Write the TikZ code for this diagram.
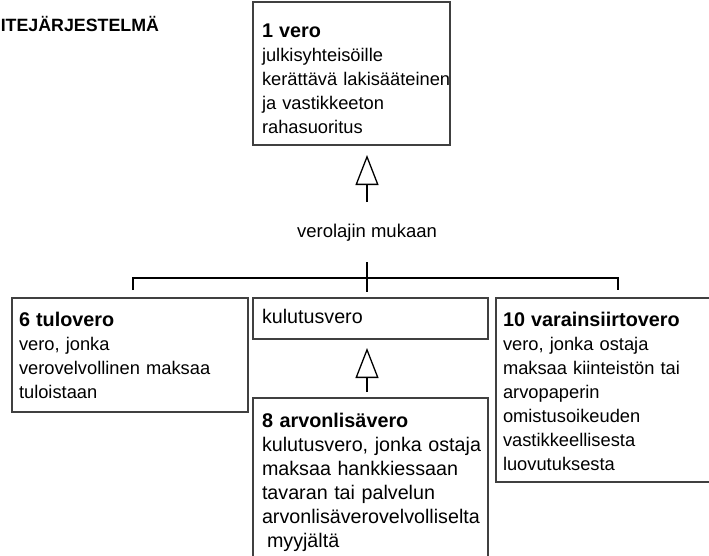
\documentclass[tikz,border=0pt]{standalone}
\usepackage{fontspec}
\setmainfont{Liberation Sans}
\usetikzlibrary{positioning}
\usetikzlibrary{arrows.meta}
\newcommand{\lead}[1]{{\fontsize{19.8}{24}\selectfont\bfseries #1}}
\newcommand{\sidefont}{\fontsize{18.3}{24}\selectfont}
\newcommand{\midfont}{\fontsize{19.7}{24}\selectfont}
\tikzstyle{concept}=[draw=black!75, line width=1.4pt, rectangle, anchor=north west, inner ysep=0pt, outer sep=0pt, align=left, text height=28pt, font=\sidefont]
\tikzstyle{isa}=[-{Triangle[open, length=30pt, width=23pt]}]

\begin{document}
\begin{tikzpicture}[x=1pt, y=-1pt, line width=1.3pt]
				\useasboundingbox (0,0) rectangle (709,555);
				\clip (0,0) rectangle (709,555);
				
				\coordinate (axis) at (367,0);
				\coordinate (stem) at (367,202);
				\coordinate (fork) at (367,278);
				\coordinate (leftdrop) at (133,290);
				\coordinate (rightdrop) at (618,290);
				
				\node (heading) [anchor=base east, font=\fontsize{17.8}{20}\selectfont\bfseries] at (163,31) {SITEJÄRJESTELMÄ};
				
				\node (vero) [concept, text width=179pt, inner xsep=9pt, text height=35pt, text depth=108pt] at (253,2) {\lead{1 vero}\\ julkisyhteisöille\\ \mbox{kerättävä lakisääteinen}\\ ja vastikkeeton\\ rahasuoritus};
				\node (peruste) [anchor=base, font=\fontsize{18.5}{24}\selectfont] at (367,237) {verolajin mukaan};
				%
				\node (tulo) [concept, text width=222pt, inner xsep=7pt, text depth=86pt] at (12,298) {\lead{6 tulovero}\\ vero, jonka\\ verovelvollinen maksaa\\ tuloistaan};
				\node (kulutus) [concept, text width=217pt, inner xsep=9pt, text height=25pt, text depth=16pt, font=\midfont, right=5pt of tulo.north east, anchor=north west] {kulutusvero};
				\node (varain) [concept, text width=246pt, inner xsep=7pt, text depth=156pt, right=8pt of kulutus.north east, anchor=north west] {\lead{10 varainsiirtovero}\\ vero, jonka ostaja\\ maksaa kiinteistön tai\\ arvopaperin\\ omistusoikeuden\\ vastikkeellisesta\\ luovutuksesta};
				\node (alv) [concept, text width=217pt, inner xsep=9pt, text height=29pt, text depth=200pt, font=\midfont, below=59pt of kulutus.south west, anchor=north west] {\lead{8 arvonlisävero}\\ \mbox{kulutusvero, jonka ostaja}\\ maksaa hankkiessaan\\ tavaran tai palvelun\\ \mbox{arvonlisäverovelvolliselta}\\ \hspace*{5pt}myyjältä};
				
				\draw [isa] (stem) to ([yshift=-10pt]vero.south -| axis);
				\draw ([yshift=16pt]fork) to ([yshift=6pt]kulutus.north -| axis);
				\draw (leftdrop) |- (fork) -| (rightdrop);
				\draw [isa] ([yshift=6pt]alv.north -| axis) to ([yshift=-9pt]kulutus.south -| axis);
				\end{tikzpicture}
\end{document}
